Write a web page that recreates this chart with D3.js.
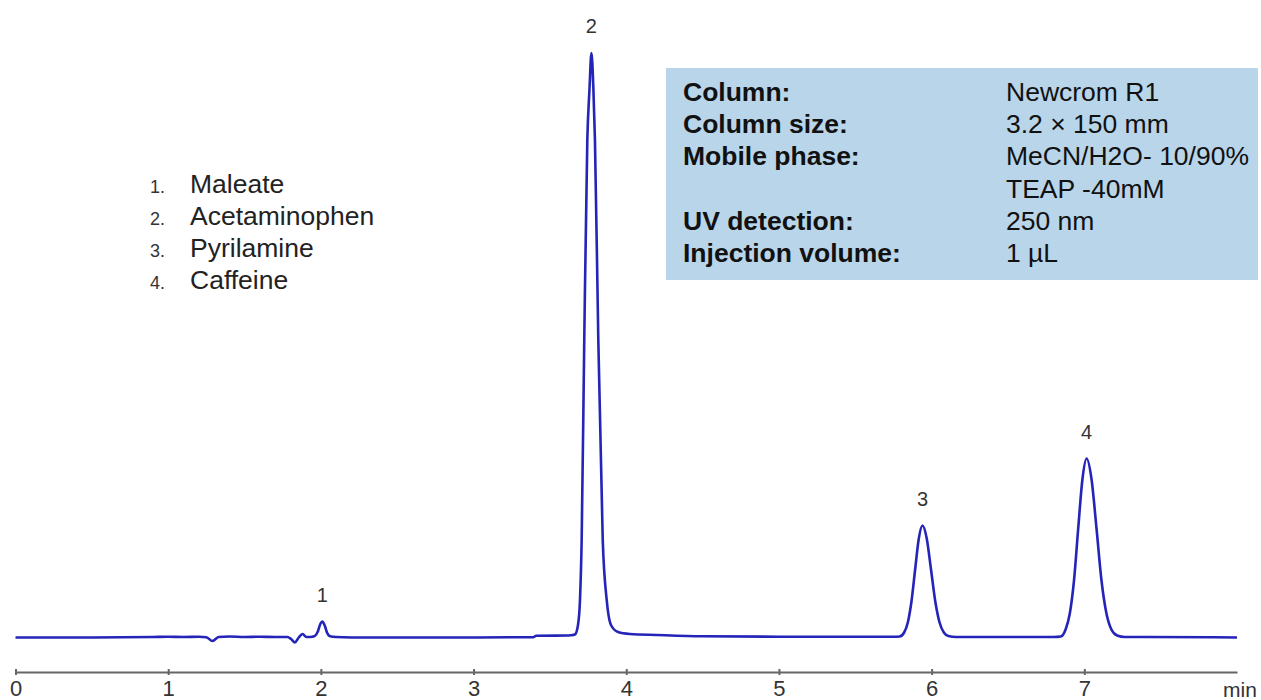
<!DOCTYPE html>
<html>
<head>
<meta charset="utf-8">
<script src="https://cdn.jsdelivr.net/npm/d3@7"></script>
<style>
  html, body { margin: 0; padding: 0; background: #fff; }
  svg { display: block; font-family: "Liberation Sans", Arial, sans-serif; }
</style>
</head>
<body>
<svg id="chart" width="1261" height="700"></svg>
<script>
// ---- data ----
// retention time (min)
const times = [
  0, 0.5, 0.9, 1.0, 1.1, 1.2, 1.25, 1.29, 1.33, 1.4, 1.5, 1.6, 1.7, 1.78,
  1.805, 1.83, 1.855, 1.88, 1.905, 1.93, 1.96, 1.98, 1.995, 2.01, 2.025, 2.04, 2.06, 2.1,
  2.3, 2.8, 3.39, 3.41, 3.6, 3.64,
  3.664, 3.684, 3.697, 3.708, 3.725, 3.745, 3.759, 3.772, 3.785, 3.795, 3.817, 3.846, 3.872, 3.900, 3.946, 4.024,
  4.2, 4.5, 5.0, 5.75,
  5.79, 5.82, 5.844, 5.868, 5.892, 5.916, 5.94, 5.968, 5.996, 6.024, 6.052, 6.08, 6.11, 6.16,
  6.3, 6.8,
  6.845, 6.8775, 6.905, 6.9325, 6.96, 6.9875, 7.015, 7.0475, 7.08, 7.1125, 7.145, 7.1775, 7.215, 7.265,
  7.4, 8.0
];
// detector signal (mAU, arbitrary)
const signal = [
  0, 0, 0.5, 0.8, 0.5, 0.8, 0.3, -3.5, 0.5, 1, 0.5, 0.8, 0.5, 0.5,
  -1.5, -5, 0, 3.5, 0.5, 0.5, 1.5, 6, 13, 16, 12, 5, 1.2, 0.5,
  0, 0, 0.3, 1.8, 2, 2.3,
  3, 12.5, 37.5, 97.5, 297.5, 497.5, 547.5, 584.5, 547.5, 497.5, 297.5, 97.5, 37.5, 12.5, 5.5, 3.5,
  2.5, 1.2, 0.8, 0.8,
  1, 5, 15, 36, 68, 99, 112, 99, 68, 36, 15, 5, 1.5, 0.5,
  0.5, 0.5,
  1, 8, 24, 57, 109, 158, 179, 158, 109, 57, 24, 8, 2, 0.5,
  0.5, 0
];

const peakLabels = ["1", "2", "3", "4"];
const peakTimes = [2.01, 3.772, 5.94, 7.015];
const peakHeights = [16, 584.5, 112, 179];

const compoundNames = ["Maleate", "Acetaminophen", "Pyrilamine", "Caffeine"];

const tickValues = [0, 1, 2, 3, 4, 5, 6, 7];
const axisUnit = "min";

const conditionLabels = ["Column:", "Column size:", "Mobile phase:", "", "UV detection:", "Injection volume:"];
const conditionValues = ["Newcrom R1", "3.2 \u00d7 150 mm", "MeCN/H2O- 10/90%", "TEAP -40mM", "250 nm", "1 \u00b5L"];

// ---- drawing ----
const svg = d3.select("#chart");

const x = d3.scaleLinear().domain([0, 8]).range([15.5, 1237]);
const y = d3.scaleLinear().domain([0, 584.5]).range([637.5, 53]);

// info box
const box = svg.append("g");
box.append("rect")
  .attr("x", 666).attr("y", 68).attr("width", 592).attr("height", 212)
  .attr("fill", "#b9d5e9");
box.selectAll("text.lab")
  .data(conditionLabels)
  .join("text")
  .attr("class", "lab")
  .attr("x", 683)
  .attr("y", (d, i) => 101 + i * 32.2)
  .attr("font-size", 26.5)
  .attr("font-weight", "bold")
  .attr("fill", "#111")
  .text(d => d);
box.selectAll("text.val")
  .data(conditionValues)
  .join("text")
  .attr("class", "val")
  .attr("x", 1006)
  .attr("y", (d, i) => 101 + i * 32.2)
  .attr("font-size", 26.5)
  .attr("fill", "#111")
  .text(d => d);

// legend of compounds
const leg = svg.append("g");
leg.selectAll("text.num")
  .data(compoundNames)
  .join("text")
  .attr("class", "num")
  .attr("x", 150)
  .attr("y", (d, i) => 193 + i * 32)
  .attr("font-size", 18)
  .attr("fill", "#333")
  .text((d, i) => (i + 1) + ".");
leg.selectAll("text.name")
  .data(compoundNames)
  .join("text")
  .attr("class", "name")
  .attr("x", 190)
  .attr("y", (d, i) => 193 + i * 32)
  .attr("font-size", 26.5)
  .attr("fill", "#222")
  .text(d => d);

// x axis
const axis = d3.axisBottom(x)
  .tickValues(tickValues)
  .tickFormat(d3.format("d"))
  .tickSizeInner(3)
  .tickSizeOuter(0)
  .tickPadding(5);
const gx = svg.append("g")
  .attr("transform", "translate(0,672)")
  .call(axis);
gx.select(".domain").attr("stroke", "#666").attr("stroke-width", 2);
gx.selectAll(".tick line").attr("y1", -3).attr("y2", 3).attr("stroke", "#666").attr("stroke-width", 2);
gx.selectAll(".tick text")
  .attr("font-size", 22)
  .attr("font-family", "Liberation Sans, Arial, sans-serif")
  .attr("fill", "#333");
svg.append("text")
  .attr("x", x(8) + 3)
  .attr("y", 697)
  .attr("text-anchor", "middle")
  .attr("font-size", 21)
  .attr("fill", "#333")
  .text(axisUnit);

// chromatogram trace
const pts = times.map((t, i) => [t, signal[i]]);
const line = d3.line()
  .x(d => x(d[0]))
  .y(d => y(d[1]))
  .curve(d3.curveMonotoneX);
svg.append("path")
  .datum(pts)
  .attr("d", line)
  .attr("fill", "none")
  .attr("stroke", "#2424b8")
  .attr("stroke-width", 2.6)
  .attr("stroke-linejoin", "round");

// peak labels
svg.selectAll("text.peak")
  .data(peakLabels)
  .join("text")
  .attr("class", "peak")
  .attr("x", (d, i) => x(peakTimes[i]))
  .attr("y", (d, i) => y(peakHeights[i]) - 20)
  .attr("text-anchor", "middle")
  .attr("font-size", 20)
  .attr("fill", "#333")
  .text(d => d);
</script>
</body>
</html>
